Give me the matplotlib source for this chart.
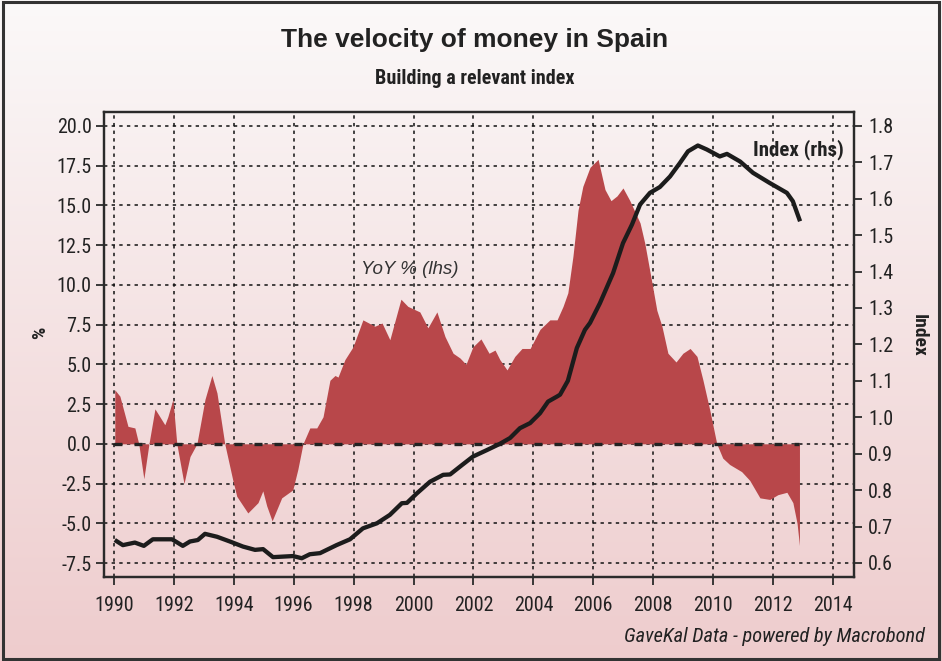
import numpy as np
import matplotlib
matplotlib.use("Agg")
import matplotlib.pyplot as plt
from matplotlib import font_manager
from matplotlib.patches import Rectangle

# ---------------- data ----------------
yoy_years = [1990.03, 1990.2, 1990.47, 1990.7, 1990.83, 1991.0, 1991.17, 1991.37, 1991.7, 1991.8,
             1991.97, 1992.1, 1992.34, 1992.54, 1992.77, 1993.04, 1993.27, 1993.44, 1993.7, 1993.97,
             1994.1, 1994.47, 1994.81, 1994.97, 1995.1, 1995.28, 1995.6, 1995.97, 1996.14, 1996.31,
             1996.54, 1996.77, 1996.98, 1997.21, 1997.38, 1997.48, 1997.71, 1997.98, 1998.31, 1998.71,
             1998.95, 1999.21, 1999.58, 1999.81, 2000.21, 2000.48, 2000.78, 2001.05, 2001.32, 2001.55,
             2001.75, 2001.98, 2002.25, 2002.52, 2002.72, 2002.88, 2003.12, 2003.38, 2003.62, 2003.89,
             2004.22, 2004.55, 2004.79, 2004.99, 2005.15, 2005.32, 2005.49, 2005.65, 2005.89, 2006.16,
             2006.39, 2006.59, 2006.79, 2006.99, 2007.22, 2007.56, 2007.72, 2007.96, 2008.12, 2008.29,
             2008.49, 2008.76, 2008.99, 2009.23, 2009.46, 2009.66, 2009.89, 2010.12, 2010.32, 2010.55,
             2010.95, 2011.22, 2011.56, 2011.89, 2012.16, 2012.46, 2012.66, 2012.8, 2012.88]
yoy_values = [3.4, 3.0, 1.1, 1.0, 0.0, -2.2, 0.0, 2.2, 1.2, 1.7,
              2.8, 0.0, -2.5, -0.8, 0.0, 2.8, 4.3, 3.2, 0.0, -2.3,
              -3.3, -4.35, -3.7, -2.96, -3.9, -4.85, -3.4, -2.9, -1.6, 0.0,
              1.0, 1.0, 1.7, 4.0, 4.3, 4.2, 5.3, 6.1, 7.8, 7.4,
              7.6, 6.55, 9.1, 8.65, 8.3, 7.3, 8.3, 6.75, 5.7, 5.4,
              5.0, 6.1, 6.6, 5.7, 5.9, 5.3, 4.65, 5.5, 6.0, 6.0,
              7.2, 7.8, 7.8, 8.65, 9.5, 11.8, 14.7, 16.2, 17.4, 17.9,
              16.0, 15.3, 15.6, 16.1, 15.3, 13.9, 12.6, 10.1, 8.4, 7.4,
              5.7, 5.15, 5.7, 6.0, 5.5, 4.0, 2.1, 0.0, -0.9, -1.3,
              -1.75, -2.3, -3.4, -3.5, -3.2, -3.05, -3.7, -5.0, -6.4]

index_years = [1990.03, 1990.3, 1990.7, 1991.0, 1991.3, 1991.94, 1992.3, 1992.54, 1992.8, 1993.04,
               1993.44, 1993.87, 1994.31, 1994.71, 1994.98, 1995.31, 1995.98, 1996.27, 1996.54, 1996.88,
               1997.43, 1997.88, 1998.31, 1998.78, 1999.21, 1999.61, 1999.78, 2000.11, 2000.55, 2000.99,
               2001.22, 2001.62, 2001.98, 2002.45, 2002.88, 2003.22, 2003.55, 2003.89, 2004.22, 2004.49,
               2004.79, 2004.89, 2005.15, 2005.45, 2005.72, 2005.89, 2006.22, 2006.66, 2006.99, 2007.29,
               2007.56, 2007.89, 2008.22, 2008.56, 2008.89, 2009.16, 2009.49, 2009.79, 2010.22, 2010.46,
               2010.9, 2011.33, 2011.89, 2012.46, 2012.66, 2012.9]
index_values = [0.663, 0.649, 0.656, 0.647, 0.665, 0.665, 0.647, 0.659, 0.663, 0.680,
                0.672, 0.659, 0.645, 0.636, 0.638, 0.616, 0.619, 0.613, 0.624, 0.627,
                0.649, 0.665, 0.695, 0.709, 0.732, 0.764, 0.765, 0.791, 0.823, 0.842,
                0.843, 0.869, 0.892, 0.910, 0.927, 0.943, 0.970, 0.984, 1.011, 1.043,
                1.057, 1.062, 1.100, 1.190, 1.240, 1.259, 1.313, 1.396, 1.478, 1.529,
                1.584, 1.616, 1.632, 1.661, 1.698, 1.730, 1.746, 1.735, 1.716, 1.723,
                1.702, 1.671, 1.643, 1.616, 1.593, 1.538]

x_ticks = list(range(1990, 2015, 2))
left_ticks = [-7.5, -5.0, -2.5, 0.0, 2.5, 5.0, 7.5, 10.0, 12.5, 15.0, 17.5, 20.0]
right_ticks = [0.6, 0.7, 0.8, 0.9, 1.0, 1.1, 1.2, 1.3, 1.4, 1.5, 1.6, 1.7, 1.8]

# ---------------- fonts ----------------
names = {f.name for f in font_manager.fontManager.ttflist}
narrow = "Liberation Sans"
for cand in ["Roboto Condensed", "Liberation Sans Narrow", "Arial Narrow", "Open Sans Condensed"]:
    if cand in names:
        narrow = cand
        break
plt.rcParams["font.family"] = [narrow, "DejaVu Sans"]
REG = ["Liberation Sans", "DejaVu Sans"]

TXT = "#222222"
RED = "#b8474a"

fig = plt.figure(figsize=(9.42, 6.61), dpi=100)

# gradient background
bg = fig.add_axes([0, 0, 1, 1], zorder=-10)
top = np.array([251, 249, 249]) / 255
bot = np.array([238, 204, 205]) / 255
t = np.linspace(0, 1, 256)[:, None]
grad = top[None, :] * (1 - t) + bot[None, :] * t
bg.imshow(grad[:, None, :], aspect="auto", extent=[0, 1, 0, 1], origin="upper")
bg.set_axis_off()
fig.patches.append(Rectangle((0.003, 0.003), 0.994, 0.994, transform=fig.transFigure,
                             fill=False, edgecolor="#333333", linewidth=2.2, zorder=5))

W, H = 942, 661
ax = fig.add_axes([104 / W, (H - 577) / H, 750 / W, 465 / H])
ax.set_facecolor("none")
ax.set_xlim(1989.67, 2014.7)
ax.set_ylim(-8.38, 20.88)

ax.set_xticks(x_ticks)
ax.set_yticks(left_ticks)
ax.set_yticklabels([f"{v:.1f}" for v in left_ticks])
ax.grid(True, color="#111111", linestyle=(0, (2.2, 2.8)), linewidth=1.1, zorder=0)
ax.set_axisbelow(True)

ax.fill_between(yoy_years, yoy_values, 0, color=RED, linewidth=0, interpolate=True, zorder=2)
ax.plot([yoy_years[0] - 0.03, yoy_years[-1]], [0, 0], color="#222222", lw=2.4,
        linestyle=(0, (2.4, 3.6)), zorder=3)

for s in ax.spines.values():
    s.set_color("#2a2a2a")
    s.set_linewidth(1.6)
ax.tick_params(direction="out", length=6, width=1.3, color="#2a2a2a", labelcolor=TXT,
               labelsize=14.5, pad=3)
ax.tick_params(axis="x", pad=8)

ax2 = ax.twinx()
ax2.set_ylim(0.5615, 1.838)
ax2.set_yticks(right_ticks)
ax2.set_yticklabels([f"{v:.1f}" for v in right_ticks])
ax2.plot(index_years, index_values, color="#1c1c1c", lw=3.1, solid_capstyle="butt", zorder=4)
for s in ax2.spines.values():
    s.set_color("#2a2a2a")
    s.set_linewidth(1.6)
ax2.tick_params(direction="out", length=6, width=1.3, color="#2a2a2a", labelcolor=TXT,
                labelsize=14.5, pad=4)

# labels and texts
fig.text(40 / W, 1 - 333 / H, "%", rotation=90, ha="center", va="center",
         fontsize=14, fontweight="bold", color=TXT)
fig.text(919 / W, 1 - 335 / H, "Index", rotation=270, ha="center", va="center",
         fontsize=14, fontweight="bold", color=TXT)

fig.text(475 / W, 1 - 40 / H, "The velocity of money in Spain", ha="center", va="center",
         fontsize=19, fontweight="bold", color=TXT, family=REG)
fig.text(475 / W, 1 - 79 / H, "Building a relevant index", ha="center", va="center",
         fontsize=14.5, fontweight="bold", color=TXT)

ax.text(1998.25, 11.0, "YoY % (lhs)", fontsize=13.5, fontstyle="italic", color="#333333",
        ha="left", va="center", zorder=5, family=REG)
ax2.text(2014.35, 1.735, "Index (rhs)", fontsize=15, fontweight="bold", color=TXT,
         ha="right", va="center", zorder=5)

fig.text(925 / W, 1 - 637 / H, "GaveKal Data - powered by Macrobond", ha="right", va="center",
         fontsize=14.7, fontstyle="italic", color=TXT)

fig.savefig("out.png", dpi=100)
